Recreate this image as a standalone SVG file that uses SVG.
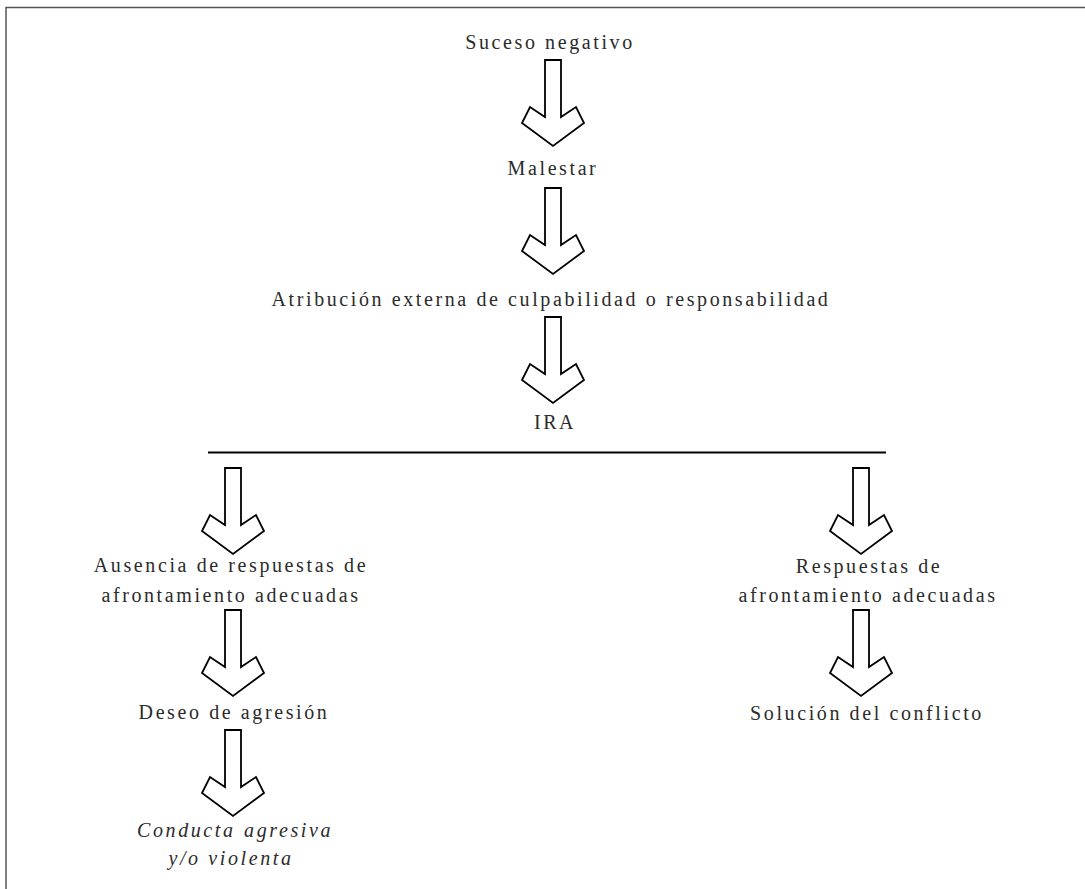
<svg xmlns="http://www.w3.org/2000/svg" xmlns:xlink="http://www.w3.org/1999/xlink" width="1085" height="889" viewBox="0 0 1085 889">
<style>
.t{font-size:20px;fill:#2b2b2b;letter-spacing:2.6px;text-anchor:middle}
.i{font-style:italic}
.arr{fill:#fff;stroke:#000;stroke-width:1.8;stroke-linejoin:miter}
.ln{stroke:#000;stroke-width:1.8;fill:none}
.bd{stroke:#555;stroke-width:1.5;fill:none}
</style>
<defs>
<path id="a" class="arr" d="M-8,0 V57 L-23,47 L-31,63 L0,86 L31,63 L23,47 L8,57 V0 Z"/>
</defs>
<rect width="1085" height="889" fill="#fff"/>
<path class="bd" d="M6,889 V7.5 H1085"/>
<g id="connectors">
<use xlink:href="#a" transform="translate(553,60)"/>
<use xlink:href="#a" transform="translate(553,188)"/>
<use xlink:href="#a" transform="translate(553,317)"/>
<line class="ln" x1="208" y1="452.5" x2="886" y2="452.5"/>
<use xlink:href="#a" transform="translate(233,468)"/>
<use xlink:href="#a" transform="translate(861,468)"/>
<use xlink:href="#a" transform="translate(233,610)"/>
<use xlink:href="#a" transform="translate(861,610)"/>
<use xlink:href="#a" transform="translate(233,730)"/>
</g>
<g id="n1"><text class="t" style="font-family:'Liberation Serif',serif" x="550" y="49">Suceso negativo</text></g>
<g id="n2"><text class="t" style="font-family:'Liberation Serif',serif" x="553" y="175">Malestar</text></g>
<g id="n3"><text class="t" style="font-family:'Liberation Serif',serif" x="551" y="306">Atribución externa de culpabilidad o responsabilidad</text></g>
<g id="n4"><text class="t" style="font-family:'Liberation Serif',serif" x="555" y="429">IRA</text></g>
<g id="n5"><text class="t" style="font-family:'Liberation Serif',serif" x="231" y="572">Ausencia de respuestas de</text><text class="t" style="font-family:'Liberation Serif',serif" x="231" y="602">afrontamiento adecuadas</text></g>
<g id="n6"><text class="t" style="font-family:'Liberation Serif',serif" x="869" y="573">Respuestas de</text><text class="t" style="font-family:'Liberation Serif',serif" x="868" y="602">afrontamiento adecuadas</text></g>
<g id="n7"><text class="t" style="font-family:'Liberation Serif',serif" x="234" y="719">Deseo de agresión</text></g>
<g id="n8"><text class="t" style="font-family:'Liberation Serif',serif" x="867" y="720">Solución del conflicto</text></g>
<g id="n9"><text class="t i" x="137" y="837" style="font-family:'Liberation Serif',serif;text-anchor:start">Conducta</text><text class="t i" x="333" y="837" style="font-family:'Liberation Serif',serif;text-anchor:end">agresiva</text><text class="t i" style="font-family:'Liberation Serif',serif" x="231" y="865">y/o violenta</text></g>
</svg>
